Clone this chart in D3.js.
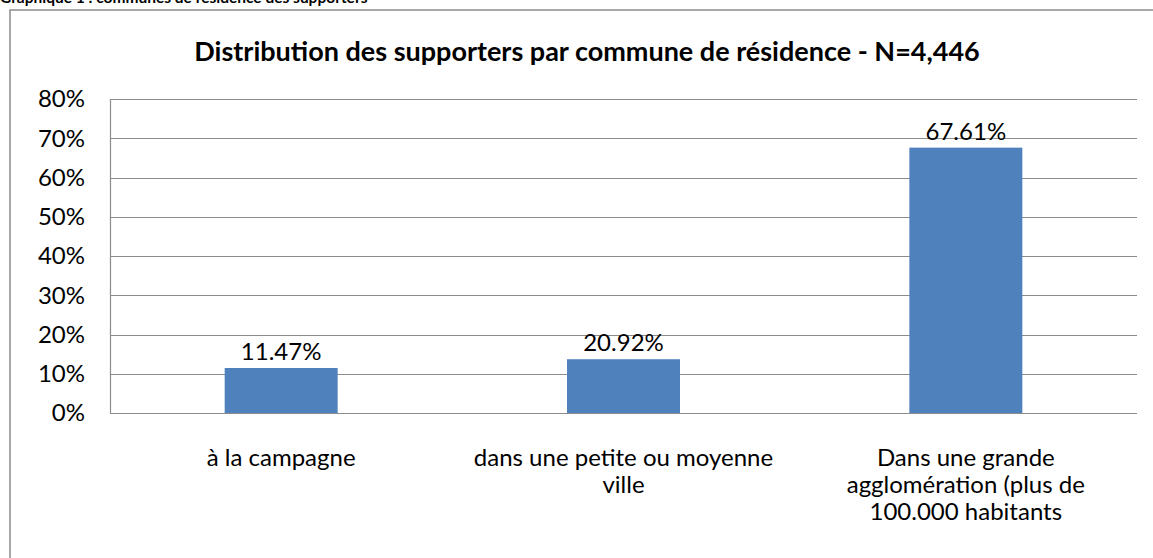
<!DOCTYPE html>
<html>
<head>
<meta charset="utf-8">
<script src="https://cdn.jsdelivr.net/npm/d3@7"></script>
<style>
  body { margin: 0; background: #fff; }
  text { font-family: Lato, "Open Sans", sans-serif; fill: #000; }
</style>
</head>
<body>
<div id="chart"></div>
<script>
'use strict'

const categories = [
  ['à la campagne'],
  ['dans une petite ou moyenne', 'ville'],
  ['Dans une grande', 'agglomération (plus de', '100.000 habitants']
]
// bar heights as drawn in the picture, labels as printed
const values = [0.1147, 0.137, 0.6761]
const labels = ['11.47%', '20.92%', '67.61%']
const ticks = [0, 0.1, 0.2, 0.3, 0.4, 0.5, 0.6, 0.7, 0.8]

const width = 1153
const height = 558
const plot = {left: 110, right: 1137, top: 99, bottom: 413}

const svg = d3.select('#chart').append('svg')
  .attr('width', width)
  .attr('height', height)

// caption above the chart box (cut off at the top)
svg.append('text')
  .attr('x', 0)
  .attr('y', 3)
  .style('font-size', '15.5px')
  .style('font-weight', 'bold')
  .text('Graphique 1 : communes de résidence des supporters')

// chart box
svg.append('rect')
  .attr('x', 10)
  .attr('y', 10)
  .attr('width', 1155)
  .attr('height', 560)
  .attr('fill', 'none')
  .attr('stroke', '#8c8c8c')
  .attr('stroke-width', 1.5)

svg.append('text')
  .attr('x', 587)
  .attr('y', 61)
  .attr('text-anchor', 'middle')
  .style('font-size', '27px')
  .style('font-weight', 'bold')
  .text('Distribution des supporters par commune de résidence - N=4,446')

const x = d3.scaleBand()
  .domain(d3.range(categories.length))
  .range([plot.left, plot.right])
  .paddingInner(0.67)
  .paddingOuter(0.335)

const y = d3.scaleLinear()
  .domain([0, 0.8])
  .range([plot.bottom, plot.top])

// gridlines
svg.append('g').selectAll('line').data(ticks)
  .enter().append('line')
  .attr('x1', plot.left)
  .attr('x2', plot.right)
  .attr('y1', d => Math.round(y(d)) + 0.5)
  .attr('y2', d => Math.round(y(d)) + 0.5)
  .attr('stroke', '#8c8c8c')
  .attr('stroke-width', 1.2)

svg.append('line')
  .attr('x1', plot.left + 0.5)
  .attr('x2', plot.left + 0.5)
  .attr('y1', plot.top)
  .attr('y2', plot.bottom)
  .attr('stroke', '#8c8c8c')
  .attr('stroke-width', 1.2)

// y tick labels
svg.append('g').selectAll('text').data(ticks)
  .enter().append('text')
  .attr('x', 85)
  .attr('y', d => y(d))
  .attr('dy', '0.35em')
  .attr('text-anchor', 'end')
  .style('font-size', '24px')
  .text(d => d3.format('.0%')(d))

// bars
svg.append('g').selectAll('rect').data(values)
  .enter().append('rect')
  .attr('x', (d, i) => x(i))
  .attr('width', x.bandwidth())
  .attr('y', d => y(d))
  .attr('height', d => y(0) - y(d))
  .attr('fill', '#4f81bd')

// value labels
svg.append('g').selectAll('text').data(values)
  .enter().append('text')
  .attr('x', (d, i) => x(i) + x.bandwidth() / 2)
  .attr('y', d => y(d) - 8)
  .attr('text-anchor', 'middle')
  .style('font-size', '24px')
  .text((d, i) => labels[i])

// category labels
const cat = svg.append('g').selectAll('text').data(categories)
  .enter().append('text')
  .attr('x', (d, i) => x(i) + x.bandwidth() / 2)
  .attr('y', 466)
  .attr('text-anchor', 'middle')
  .style('font-size', '24px')

cat.selectAll('tspan').data(d => d)
  .enter().append('tspan')
  .attr('x', function () { return this.parentNode.getAttribute('x') })
  .attr('dy', (d, i) => i === 0 ? 0 : 27)
  .text(d => d)
</script>
</body>
</html>
